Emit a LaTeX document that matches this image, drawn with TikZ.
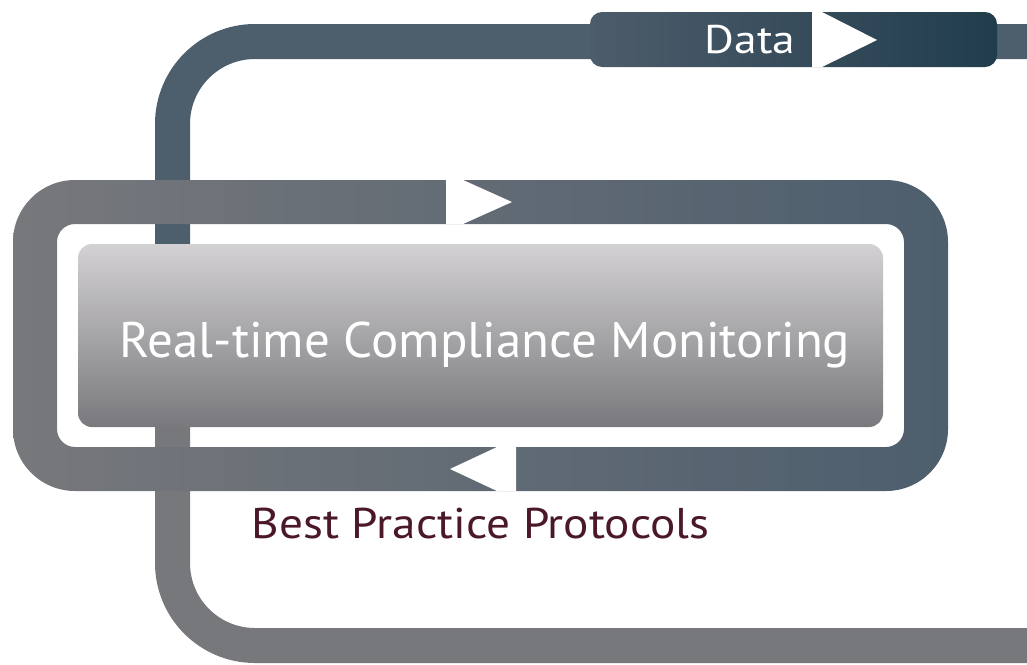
\documentclass[tikz,border=0pt]{standalone}
\usepackage{fontspec}
\setmainfont{PT Sans}
\usepackage{tikz}
\definecolor{slate}{HTML}{4D5E6D}
\definecolor{greyband}{HTML}{77787C}
\definecolor{datal}{HTML}{4D5C6B}
\definecolor{datar}{HTML}{213D4C}
\definecolor{boxtop}{HTML}{D3D1D3}
\definecolor{boxbot}{HTML}{79787C}
\definecolor{maroon}{HTML}{4B1828}
\tikzset{
  band/.style={line width=35pt, rounded corners=82.5pt},
  chev/.style={fill=white, draw=none},
  lbl/.style={anchor=base, inner sep=0pt, text=white}
}
\begin{document}
\begin{tikzpicture}[x=1pt,y=-1pt]
\useasboundingbox (0,0) rectangle (1027,664);
% top band (Data feed)
\draw[band, slate] (1030,41.5) -- (172.5,41.5) -- (172.5,300);
% bottom band
\draw[band, greyband] (172.5,380) -- (172.5,645.5) -- (1030,645.5);
% Data bar
\shade[left color=datal, right color=datar, rounded corners=12pt] (590,12) rectangle (997,67);
\fill[chev] (812,12) -- (822,12) -- (877,40) -- (822,67) -- (812,67) -- cycle;
\node[lbl, font=\fontsize{40}{40}\selectfont] (data) at (750,53) {\scalebox{1.14}[1]{Data}};
% ring
\shade[left color=greyband, right color=slate, even odd rule]
  [rounded corners=62pt] (13,180) rectangle (948,491)
  [rounded corners=18pt] (57,224) rectangle (904,447);
\fill[chev] (446,180) -- (463,180) -- (512,202) -- (463,224) -- (446,224) -- cycle;
\fill[chev] (516,447) -- (497,447) -- (450,469) -- (497,491) -- (516,491) -- cycle;
% box
\shade[top color=boxtop, bottom color=boxbot, rounded corners=14pt] (78,244) rectangle (883,427);
\node[lbl, font=\fontsize{50}{50}\selectfont] (rtcm) at (485,357) {\scalebox{1.02}[1]{Real-time Compliance Monitoring}};
\node[lbl, text=maroon, font=\fontsize{43}{43}\selectfont] (bpp) at (480.5,538) {\scalebox{1.10}[1]{Best Practice Protocols}};
\end{tikzpicture}
\end{document}
